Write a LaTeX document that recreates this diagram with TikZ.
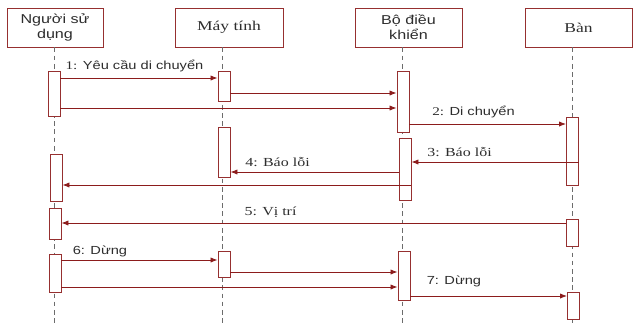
\documentclass[tikz,border=0pt]{standalone}
\usepackage{fontspec}
\setmainfont{Liberation Serif}
\newfontfamily\sansvn[FakeStretch=1.25]{Liberation Sans}
\newfontfamily\serifvn[FakeStretch=1.3]{Liberation Serif}
\usepackage{tikz}
\usetikzlibrary{arrows.meta, positioning}
\definecolor{seqred}{RGB}{140,28,28}
\definecolor{boxred}{RGB}{150,48,48}
\definecolor{txtgray}{RGB}{45,45,45}

\begin{document}
\begin{tikzpicture}[
    x=0.03cm, y=-0.03cm,
    head/.style={rectangle, draw=boxred, fill=white, line width=0.8pt, minimum height=1.17cm, text=txtgray, align=center, inner sep=1pt},
    act/.style={rectangle, draw=boxred, fill=white, line width=0.7pt, minimum width=0.36cm, inner sep=0pt},
    life/.style={draw=gray!85!black, dash pattern=on 4pt off 3pt, line width=0.6pt},
    msg/.style={draw=seqred, line width=0.7pt, -{Latex[length=6pt,width=4.5pt]}},
    lbl/.style={text=txtgray, inner sep=0pt}
]
\useasboundingbox (0,0) rectangle (633,323);

\node[head, minimum width=2.88cm, font=\sansvn\fontsize{11}{12.8}\selectfont] (user) at (55,27.5) {Người sử\\dụng};
\node[head, minimum width=3.24cm, font=\serifvn\fontsize{11.5}{13}\selectfont] (pc) at (229,27.5) {Máy tính};
\node[head, minimum width=3.21cm, font=\sansvn\fontsize{11}{12.8}\selectfont] (ctrl) at (408.5,27.5) {Bộ điều\\khiển};
\node[head, minimum width=3.21cm, font=\serifvn\fontsize{11.5}{13}\selectfont] (table) at (578.5,27.5) {Bàn};

\draw[life] (user.south west) ++(48,0) -- ++(0,276);
\draw[life] (pc.south west) ++(48,0) -- ++(0,276);
\draw[life] (ctrl.south west) ++(48,0) -- ++(0,276);
\draw[life] (table.south west) ++(48,0) -- ++(0,276);

\node[act, minimum height=1.35cm] (a1) at (54,93.5) {};
\node[act, minimum height=1.41cm] (a2) at (56,177.5) {};
\node[act, minimum height=0.93cm] (a3) at (55,223.5) {};
\node[act, minimum height=1.14cm] (a4) at (55,273) {};
\node[act, minimum height=0.90cm] (b1) at (224,86) {};
\node[act, minimum height=1.50cm] (b2) at (224,152) {};
\node[act, minimum height=0.78cm] (b3) at (224,264) {};
\node[act, minimum height=1.83cm] (c1) at (403,101.5) {};
\node[act, minimum height=1.86cm] (c2) at (405,169) {};
\node[act, minimum height=1.47cm] (c3) at (404,275.5) {};
\node[act, minimum height=2.04cm] (d1) at (572.5,151) {};
\node[act, minimum height=0.81cm] (d2) at (572.5,232.5) {};
\node[act, minimum height=0.81cm] (d3) at (573.5,305.5) {};

\coordinate (m1) at (0,78);
\coordinate (m2) at (0,93);
\coordinate (m3) at (0,108);
\coordinate (m4) at (0,124);
\coordinate (m5) at (0,162);
\coordinate (m6) at (0,172);
\coordinate (m7) at (0,185);
\coordinate (m8) at (0,223);
\coordinate (m9) at (0,260);
\coordinate (m10) at (0,272);
\coordinate (m11) at (0,287);
\coordinate (m12) at (0,296);

\draw[msg] (a1.east |- m1) -- (b1.west |- m1);
\draw[msg] (b1.east |- m2) -- (c1.west |- m2);
\draw[msg] (a1.east |- m3) -- (c1.west |- m3);
\draw[msg] (c1.east |- m4) -- (d1.west |- m4);
\draw[msg] (d1.east |- m5) -- (c2.east |- m5);
\draw[msg] (c2.west |- m6) -- (b2.east |- m6);
\draw[msg] (c2.east |- m7) -- (a2.east |- m7);
\draw[msg] (d2.west |- m8) -- (a3.east |- m8);
\draw[msg] (a4.east |- m9) -- (b3.west |- m9);
\draw[msg] (b3.east |- m10) -- (c3.west |- m10);
\draw[msg] (a4.east |- m11) -- (c3.west |- m11);
\draw[msg] (c3.east |- m12) -- (d3.west |- m12);

\node[lbl, font=\sansvn\fontsize{10}{12}\selectfont] (l1) at (134.5,66) {{\serifvn 1:} Yêu cầu di chuyển};
\node[lbl, font=\sansvn\fontsize{10}{12}\selectfont] (l2) at (473.5,112) {{\serifvn 2:} Di chuyển};
\node[lbl, font=\serifvn\fontsize{10.5}{12}\selectfont] (l3) at (459.5,152) {3: Báo lỗi};
\node[lbl, font=\serifvn\fontsize{10.5}{12}\selectfont] (l4) at (277.5,162) {4: Báo lỗi};
\node[lbl, font=\serifvn\fontsize{10.5}{12}\selectfont] (l5) at (270.5,212) {5: Vị trí};
\node[lbl, font=\sansvn\fontsize{10}{12}\selectfont] (l6) at (100,251) {6: Dừng};
\node[lbl, font=\sansvn\fontsize{10}{12}\selectfont] (l7) at (454,281) {7: Dừng};
\end{tikzpicture}
\end{document}
